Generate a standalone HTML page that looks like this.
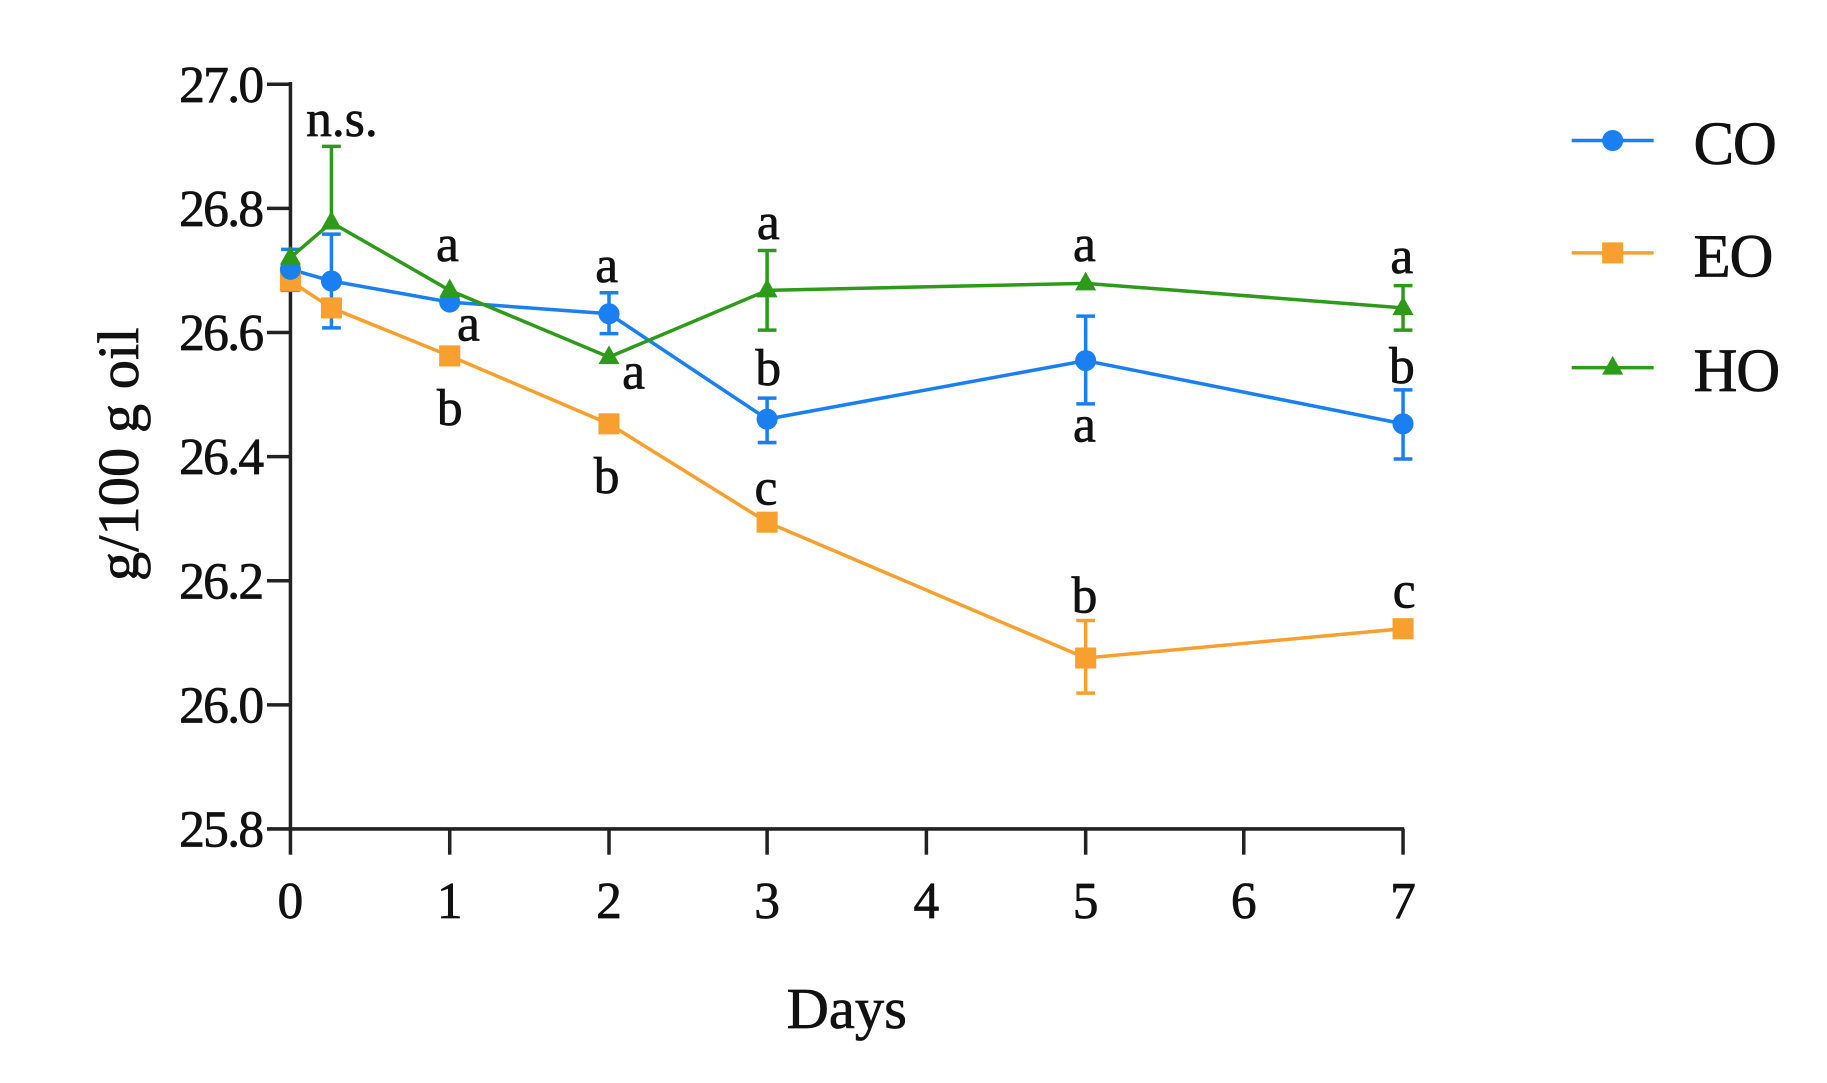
<!DOCTYPE html>
<html><head><style>html,body{margin:0;padding:0;background:#fff}svg{display:block}</style></head><body>
<svg width="1827" height="1083" viewBox="0 0 1560 925" preserveAspectRatio="none" xmlns="http://www.w3.org/2000/svg" font-family="'Liberation Serif', serif">
<g stroke="#222" stroke-width="3" fill="none">
<line x1="248" y1="70" x2="248" y2="710"/>
<line x1="246" y1="708" x2="1199" y2="708"/>
<line x1="228" y1="72" x2="248" y2="72"/><line x1="228" y1="178" x2="248" y2="178"/><line x1="228" y1="284" x2="248" y2="284"/><line x1="228" y1="390" x2="248" y2="390"/><line x1="228" y1="496" x2="248" y2="496"/><line x1="228" y1="602" x2="248" y2="602"/><line x1="228" y1="708" x2="248" y2="708"/>
<line x1="248" y1="708" x2="248" y2="730"/><line x1="384" y1="708" x2="384" y2="730"/><line x1="520" y1="708" x2="520" y2="730"/><line x1="655" y1="708" x2="655" y2="730"/><line x1="791" y1="708" x2="791" y2="730"/><line x1="927" y1="708" x2="927" y2="730"/><line x1="1062" y1="708" x2="1062" y2="730"/><line x1="1198" y1="708" x2="1198" y2="730"/>
</g>
<g font-size="44" fill="#111" text-anchor="end" letter-spacing="-1.5" stroke="#111" stroke-width="0.6">
<text x="224" y="87">27.0</text><text x="224" y="193">26.8</text><text x="224" y="299">26.6</text><text x="224" y="405">26.4</text><text x="224" y="511">26.2</text><text x="224" y="617">26.0</text><text x="224" y="723">25.8</text>
</g>
<g font-size="44" fill="#111" text-anchor="middle" stroke="#111" stroke-width="0.6">
<text x="248" y="784">0</text><text x="384" y="784">1</text><text x="520" y="784">2</text><text x="655" y="784">3</text><text x="791" y="784">4</text><text x="927" y="784">5</text><text x="1062" y="784">6</text><text x="1198" y="784">7</text>
<text x="723" y="878" font-size="50">Days</text>
<text transform="translate(118,388) rotate(-90)" font-size="50">g/100 g oil</text>
</g>
<g stroke-width="3" fill="none">
<g stroke="#2e9a1a"><path d="M283 125V190M275 125H291"/><path d="M655 214V282M647 214H663M647 282H663"/><path d="M1198 244V282M1190 244H1206M1190 282H1206"/></g>
<g stroke="#1a7ff0"><path d="M248 213V248M240 213H256M240 248H256"/><path d="M283 200V280M275 200H291M275 280H291"/><path d="M520 250V285M512 250H528M512 285H528"/><path d="M655 340V378M647 340H663M647 378H663"/><path d="M927 270V345M919 270H935M919 345H935"/><path d="M1198 333V392M1190 333H1206M1190 392H1206"/></g>
<g stroke="#f7a030"><path d="M927 530V592M919 530H935M919 592H935"/></g>
</g>
<polyline fill="none" stroke="#f7a030" stroke-width="3" points="248,240 283,263 384,304 520,362 655,446 927,562 1198,537"/>
<polyline fill="none" stroke="#1a7ff0" stroke-width="3" points="248,230 283,240 384,258 520,268 655,358 927,308 1198,362"/>
<polyline fill="none" stroke="#2e9a1a" stroke-width="3" points="248,220 283,190 384,248 520,305 655,248 927,242 1198,263"/>
<g fill="#f7a030"><rect x="239" y="231" width="18" height="18"/><rect x="274" y="254" width="18" height="18"/><rect x="375" y="295" width="18" height="18"/><rect x="511" y="353" width="18" height="18"/><rect x="646" y="437" width="18" height="18"/><rect x="918" y="553" width="18" height="18"/><rect x="1189" y="528" width="18" height="18"/></g>
<g fill="#1a7ff0"><circle cx="248" cy="230" r="9"/><circle cx="283" cy="240" r="9"/><circle cx="384" cy="258" r="9"/><circle cx="520" cy="268" r="9"/><circle cx="655" cy="358" r="9"/><circle cx="927" cy="308" r="9"/><circle cx="1198" cy="362" r="9"/></g>
<g fill="#2e9a1a"><path d="M248 210l9 16h-18z"/><path d="M283 180l9 16h-18z"/><path d="M384 238l9 16h-18z"/><path d="M520 295l9 16h-18z"/><path d="M655 238l9 16h-18z"/><path d="M927 232l9 16h-18z"/><path d="M1198 253l9 16h-18z"/></g>
<g font-size="44" fill="#111" text-anchor="middle" stroke="#111" stroke-width="0.6">
<text x="292" y="116">n.s.</text>
<text x="382" y="223">a</text><text x="400" y="291">a</text><text x="384" y="363">b</text>
<text x="518" y="241">a</text><text x="541" y="332">a</text><text x="518" y="421">b</text>
<text x="656" y="204">a</text><text x="656" y="329">b</text><text x="654" y="431">c</text>
<text x="926" y="223">a</text><text x="926" y="377">a</text><text x="926" y="523">b</text>
<text x="1197" y="233">a</text><text x="1197" y="327">b</text><text x="1199" y="519">c</text>
</g>
<g stroke-width="3">
<line x1="1342" y1="120" x2="1412" y2="120" stroke="#1a7ff0"/><circle cx="1377" cy="120" r="9" fill="#1a7ff0"/>
<line x1="1342" y1="216" x2="1412" y2="216" stroke="#f7a030"/><rect x="1368" y="207" width="18" height="18" fill="#f7a030"/>
<line x1="1342" y1="314" x2="1412" y2="314" stroke="#2e9a1a"/><path d="M1377 304l9 16h-18z" fill="#2e9a1a"/>
</g>
<g font-size="52" fill="#111" stroke="#111" stroke-width="0.6" letter-spacing="-1"><text x="1446" y="140">CO</text><text x="1446" y="236">EO</text><text x="1446" y="334">HO</text></g>
</svg>
</body></html>
